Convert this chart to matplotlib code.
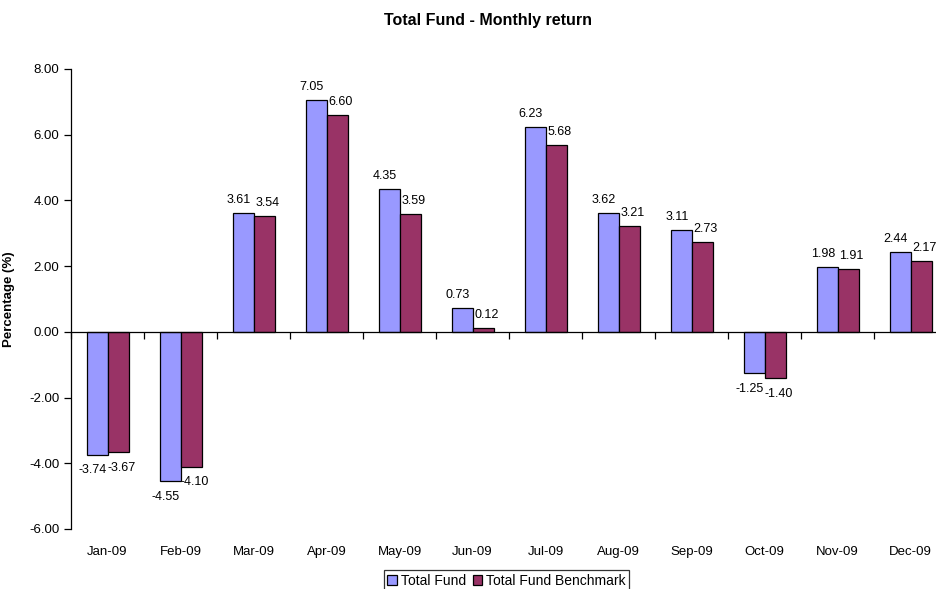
import matplotlib
matplotlib.use('Agg')
import matplotlib.pyplot as plt
import numpy as np

plt.rcParams['font.family'] = ['Liberation Sans', 'DejaVu Sans']

# Data
months = ['Jan-09', 'Feb-09', 'Mar-09', 'Apr-09', 'May-09', 'Jun-09',
          'Jul-09', 'Aug-09', 'Sep-09', 'Oct-09', 'Nov-09', 'Dec-09']
total_fund = [-3.74, -4.55, 3.61, 7.05, 4.35, 0.73, 6.23, 3.62, 3.11, -1.25, 1.98, 2.44]
benchmark = [-3.67, -4.10, 3.54, 6.60, 3.59, 0.12, 5.68, 3.21, 2.73, -1.40, 1.91, 2.17]

fig = plt.figure(figsize=(9.36, 5.89), dpi=100)
# plot area runs slightly past the right edge, as in the original
ax = fig.add_axes([0.0759, 0.1019, 0.936, 0.781])

x = np.arange(len(months))
w = 0.288
b1 = ax.bar(x - w / 2, total_fund, w, color='#9999FF', edgecolor='black', linewidth=0.9,
            label='Total Fund')
b2 = ax.bar(x + w / 2, benchmark, w, color='#993366', edgecolor='black', linewidth=0.9,
            label='Total Fund Benchmark')

# value labels, nudged apart a little like Excel does
for bars, vals, dx in ((b1, total_fund, -3), (b2, benchmark, 2.5)):
    for rect, v in zip(bars, vals):
        dy = 5 if v >= 0 else -7
        ax.annotate(f'{v:.2f}', (rect.get_x() + rect.get_width() / 2, v),
                    xytext=(dx, dy), textcoords='offset points',
                    ha='center', va='bottom' if v >= 0 else 'top', fontsize=9)

ax.set_xlim(-0.5, len(months) - 0.5)
ax.set_ylim(-6, 8)
ax.set_yticks(np.arange(-6, 9, 2))
ax.set_yticklabels([f'{t:.2f}' for t in np.arange(-6, 9, 2)], fontsize=9.5)
ax.tick_params(axis='y', length=5, width=0.9, direction='out')

# category axis crosses at zero, with ticks between categories
ax.spines['top'].set_visible(False)
ax.spines['right'].set_visible(False)
ax.spines['bottom'].set_position(('data', 0))
ax.spines['bottom'].set_linewidth(0.9)
ax.spines['left'].set_linewidth(0.9)
ax.set_xticks(np.arange(-0.5, len(months), 1))
ax.set_xticklabels([])
ax.tick_params(axis='x', length=5, width=0.9, direction='out')

# month labels at the bottom of the plot area
sec = ax.secondary_xaxis('bottom')
sec.set_xticks(x)
sec.set_xticklabels(months, fontsize=9.5)
sec.tick_params(length=0, pad=12)
sec.spines['bottom'].set_visible(False)

ax.set_ylabel('Percentage (%)', fontsize=9.5, fontweight='bold', labelpad=10)
fig.text(0.521, 0.965, 'Total Fund - Monthly return', ha='center', va='center',
         fontsize=11.5, fontweight='bold')

leg = fig.legend(handles=[b1, b2], loc='upper center', bbox_to_anchor=(0.541, 0.032),
                 ncol=2, fontsize=10, frameon=True, fancybox=False,
                 handlelength=0.7, handleheight=0.7, handletextpad=0.25,
                 columnspacing=0.5, borderpad=0.25, borderaxespad=0)
leg.get_frame().set_edgecolor('black')
leg.get_frame().set_linewidth(0.9)

fig.savefig('out.png', dpi=100)
plt.close(fig)
